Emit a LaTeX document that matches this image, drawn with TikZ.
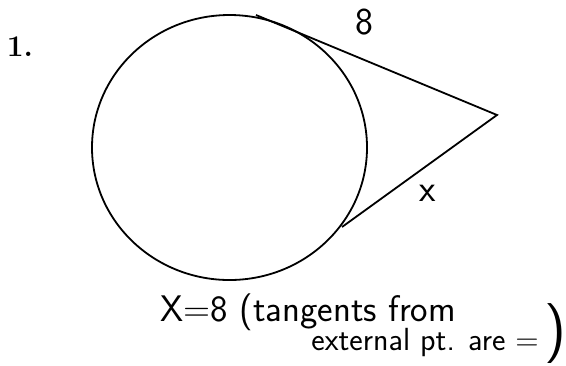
\documentclass[tikz,border=0pt]{standalone}
\usepackage{fontspec}
\begin{document}
\begin{tikzpicture}[
  x=0.5pt, y=-0.5pt,
  edge/.style={line width=0.9pt},
  lbl/.style={inner sep=0pt, font=\sffamily\fontsize{19}{19}\selectfont},
  hand/.style={inner sep=0pt, anchor=west, font=\sffamily\fontsize{16}{16}\selectfont}
]
  \useasboundingbox (0, 0) rectangle (566, 365);
  \node[inner sep=0pt, font=\bfseries\fontsize{15}{15}\selectfont] (num) at (20, 47) {1.};

  \coordinate (c) at (229.5, 147.5);
  \draw[edge] (c) ellipse [x radius=137.5, y radius=132.5];

  \coordinate (p) at (497, 115);
  \coordinate (t1) at (256, 15);
  \coordinate (t2) at (342, 227);
  \draw[edge] (t1) -- (p) -- (t2);

  \node[lbl] (eight) at (364, 22) {8};
  \node[lbl] (x) at (428, 193) {x};

  \node[hand, font=\sffamily\fontsize{18.5}{18.5}\selectfont] (line1) at (160, 312) {X=8 (tangents from};
  \node[hand] (line2) at (311, 343) {external pt. are =};
  \node[inner sep=0pt, font=\sffamily\fontsize{30}{30}\selectfont] (paren) at (555, 334) {)};
\end{tikzpicture}
\end{document}
